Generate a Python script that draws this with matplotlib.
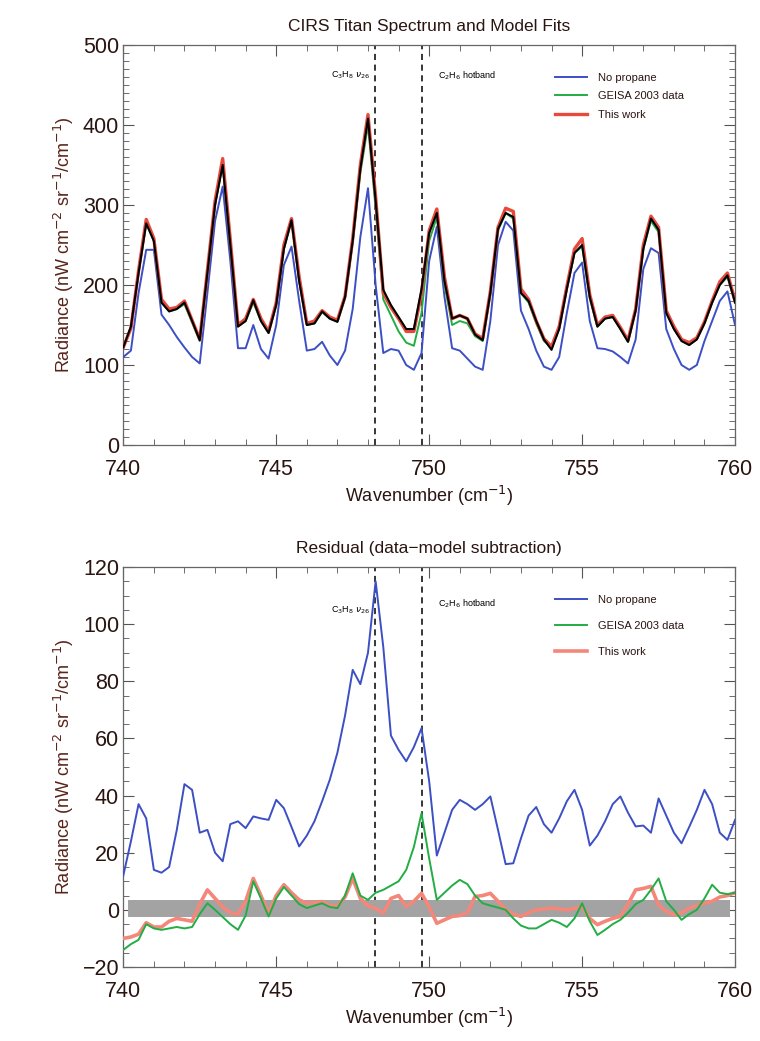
import numpy as np
import matplotlib
matplotlib.use("Agg")
from matplotlib import pyplot as plt
from matplotlib.ticker import MultipleLocator

## Data (0.25 cm^-1 steps from 740 to 760)
wavenumber = np.arange(740.0, 760.001, 0.25)

# Top panel: observed spectrum and three model fits
observed = [122, 148, 215, 277, 255, 178, 167, 170, 178, 155,
            131, 215, 300, 350, 250, 148, 155, 181, 155, 140,
            175, 245, 281, 205, 150, 152, 167, 158, 154, 185,
            255, 345, 408, 305, 194, 175, 160, 145, 145, 195,
            265, 290, 205, 158, 162, 158, 138, 131, 190, 270,
            290, 285, 190, 180, 155, 132, 119, 145, 195, 240,
            250, 185, 148, 158, 160, 145, 129, 168, 245, 283,
            269, 165, 145, 130, 125, 132, 152, 178, 200, 212, 178]
no_propane = [110, 118, 190, 244, 244, 163, 150, 135, 122, 110,
              102, 190, 280, 323, 230, 121, 121, 150, 120, 108,
              150, 225, 248, 180, 118, 120, 129, 112, 100, 118,
              170, 260, 321, 200, 115, 120, 118, 100, 94, 115,
              230, 273, 185, 121, 118, 108, 98, 94, 155, 250,
              279, 268, 168, 145, 118, 98, 94, 110, 165, 215,
              228, 155, 121, 120, 117, 110, 102, 132, 220, 246,
              240, 145, 120, 100, 94, 100, 130, 155, 180, 192, 150]
geisa_2003 = [122, 148, 215, 277, 255, 178, 167, 170, 176, 153,
              130, 215, 300, 350, 250, 148, 155, 178, 155, 140,
              175, 245, 280, 205, 150, 152, 166, 158, 154, 183,
              252, 340, 400, 295, 182, 162, 142, 128, 124, 165,
              255, 285, 200, 150, 155, 152, 136, 130, 188, 268,
              290, 283, 190, 178, 152, 130, 122, 145, 195, 240,
              248, 183, 148, 158, 160, 145, 129, 168, 245, 280,
              266, 165, 145, 130, 125, 132, 152, 178, 200, 210, 178]
this_work = [122, 146, 218, 282, 258, 182, 170, 172, 180, 156,
             132, 218, 305, 358, 256, 150, 158, 182, 158, 142,
             178, 250, 283, 210, 152, 155, 168, 160, 156, 186,
             258, 350, 413, 310, 190, 172, 158, 142, 142, 190,
             268, 295, 210, 158, 162, 158, 139, 133, 192, 272,
             296, 292, 195, 182, 155, 133, 123, 148, 198, 245,
             258, 188, 150, 160, 162, 147, 131, 170, 250, 286,
             272, 168, 148, 132, 128, 134, 154, 180, 204, 215, 180]

# Bottom panel: residuals (data - model)
resid_no_propane = [12, 24, 37, 32, 14, 13, 15, 28, 44, 42,
                    27, 28, 20, 17, 30, 31, 28.6, 32.7, 32, 31.5,
                    38.5, 35.6, 29, 22.2, 26, 31, 38, 45.5, 55, 68,
                    84, 79, 90, 115, 92, 61, 56, 52, 57, 63.6,
                    45, 19, 27, 35, 38.5, 37, 35, 37, 39.7, 28,
                    16, 16.3, 25, 33, 36, 30, 27, 32, 38, 42,
                    35, 22.5, 26, 31, 37, 39.7, 34, 29.2, 29.5, 27,
                    39, 33, 27, 23.3, 29, 35, 42, 37, 27, 24.5, 31.5]
resid_geisa = [-14, -12, -10.5, -5, -6.5, -7, -6.5, -6, -6.5, -6,
               -1.5, 2.3, 0, -2.5, -5, -7, -2, 10, 4, -2.3,
               4, 8, 5, 2, 0.6, 1.5, 2.3, 1, 0.6, 5,
               12.8, 5, 3.5, 6, 7, 8.5, 10, 14, 22, 33.8,
               18, 3.5, 6, 8.5, 10.5, 9, 5, 2.3, 1.5, 0.8,
               0, -3, -5.5, -6.5, -6.5, -5, -3.5, -4.5, -6, -3,
               2.3, -4, -8.8, -7, -5, -3.5, -1, 2, 3.5, 7,
               11, 3, 0, -3.5, -1.5, 0, 4, 8.8, 6, 5.5, 6]
resid_this_work = [-10, -9.5, -8.5, -4.5, -6, -6, -4, -3, -3.5, -4,
                   2, 7, 4, 1, -1, -1.5, 3, 11, 5, -1.2,
                   5, 8.8, 6, 3.5, 2.3, 2.5, 2.9, 1.5, 1.2, 4.5,
                   11, 4, 1.5, 0.5, -1.2, 4, 5, 1.2, 3, 5.8,
                   1, -4.7, -3.5, -2.3, -2, -1, 4.7, 5, 5.8, 3,
                   0, -1.5, -2.3, -1, 0, 0.3, 0.6, 0.3, 0, 0.5,
                   1.2, -3, -5.2, -4, -3, -2.3, 2, 7, 7.5, 8.2,
                   1.5, -0.5, -1.8, -1, 0.6, 1.5, 2.3, 3, 4.5, 5, 6]

band_edges = [748.22, 749.75]
noise_band = (-2.5, 3.5)

series_labels = ["No propane", "GEISA 2003 data", "This work"]

BLUE = "#3c4fc4"
GREEN = "#22ad45"
RED = "#e8493b"
SALMON = "#f4877a"
TEXT = "#2a1410"
YLAB = "#5a2418"


def style_axes(ax, ymin, ymax, ymajor, yminor):
    """Common IDL-like axis styling: inward ticks on all four sides."""
    ax.set_xlim(740, 760)
    ax.set_ylim(ymin, ymax)
    ax.xaxis.set_major_locator(MultipleLocator(5))
    ax.xaxis.set_minor_locator(MultipleLocator(1))
    ax.yaxis.set_major_locator(MultipleLocator(ymajor))
    ax.yaxis.set_minor_locator(MultipleLocator(yminor))
    ax.tick_params(which="both", direction="in", top=True, right=True,
                   colors="#555555", labelcolor=TEXT, labelsize=15.5)
    ax.tick_params(which="major", length=8, width=0.8)
    ax.tick_params(which="minor", length=4, width=0.6)
    ax.tick_params(axis="x", pad=10)
    ax.tick_params(axis="y", pad=3)
    for spine in ax.spines.values():
        spine.set_color("#666666")
        spine.set_linewidth(0.9)
    ax.set_xlabel("Wavenumber (cm$^{-1}$)", fontsize=13, color=TEXT, labelpad=3)
    ax.set_ylabel("Radiance (nW cm$^{-2}$ sr$^{-1}$/cm$^{-1}$)", fontsize=13,
                  color=YLAB, labelpad=5)
    for xv in band_edges:
        ax.axvline(xv, color="black", linestyle=(0, (4, 3)), linewidth=1.1, zorder=1)


def main():
    plt.rcParams["font.family"] = ["Liberation Sans", "DejaVu Sans"]
    plt.rcParams["mathtext.fontset"] = "dejavusans"

    fig = plt.figure(figsize=(7.6, 10.41), dpi=100)
    fig.patch.set_facecolor("white")

    ## Top panel: spectrum and model fits
    ax1 = fig.add_axes([0.1622, 0.5725, 0.805, 0.3843])
    style_axes(ax1, 0, 500, 100, 10)
    ax1.plot(wavenumber, no_propane, color=BLUE, lw=1.4, label=series_labels[0], zorder=3)
    ax1.plot(wavenumber, geisa_2003, color=GREEN, lw=1.4, label=series_labels[1], zorder=3)
    ax1.plot(wavenumber, this_work, color=RED, lw=2.4, label=series_labels[2], zorder=4)
    ax1.plot(wavenumber, observed, color="black", lw=1.5, zorder=5)
    ax1.set_title("CIRS Titan Spectrum and Model Fits", fontsize=12.5, color=TEXT, pad=10)
    ax1.text(748.05, 462, r"C$_3$H$_8$ $\nu_{26}$", fontsize=6.5, ha="right", va="center")
    ax1.text(750.3, 462, r"C$_2$H$_6$ hotband", fontsize=6.5, ha="left", va="center")
    leg1 = ax1.legend(loc="upper left", bbox_to_anchor=(0.69, 0.955), frameon=False,
                      fontsize=8, handlelength=2.8, handletextpad=1.0, labelspacing=0.75)
    for txt in leg1.get_texts():
        txt.set_color(TEXT)

    ## Bottom panel: residuals
    ax2 = fig.add_axes([0.1622, 0.0711, 0.805, 0.3842])
    style_axes(ax2, -20, 120, 20, 5)
    ax2.axhspan(noise_band[0], noise_band[1], xmin=0.008, xmax=0.992,
                color="#a3a3a3", lw=0, zorder=2)
    ax2.plot(wavenumber, resid_no_propane, color=BLUE, lw=1.4, label=series_labels[0], zorder=4)
    ax2.plot(wavenumber, resid_this_work, color=SALMON, lw=2.6, label=series_labels[2], zorder=3)
    ax2.plot(wavenumber, resid_geisa, color=GREEN, lw=1.4, label=series_labels[1], zorder=4)
    ax2.set_title("Residual (data\u2212model subtraction)", fontsize=12.5, color=TEXT, pad=10)
    ax2.text(748.05, 105, r"C$_3$H$_8$ $\nu_{26}$", fontsize=6.5, ha="right", va="center")
    ax2.text(750.3, 107, r"C$_2$H$_6$ hotband", fontsize=6.5, ha="left", va="center")
    handles, labels = ax2.get_legend_handles_labels()
    order = [0, 2, 1]
    leg2 = ax2.legend([handles[i] for i in order], [labels[i] for i in order],
                      loc="upper left", bbox_to_anchor=(0.69, 0.955), frameon=False,
                      fontsize=8, handlelength=2.8, handletextpad=1.0, labelspacing=1.45)
    for txt in leg2.get_texts():
        txt.set_color(TEXT)

    fig.savefig("out.png", dpi=100, facecolor="white")


if __name__ == "__main__":
    main()
